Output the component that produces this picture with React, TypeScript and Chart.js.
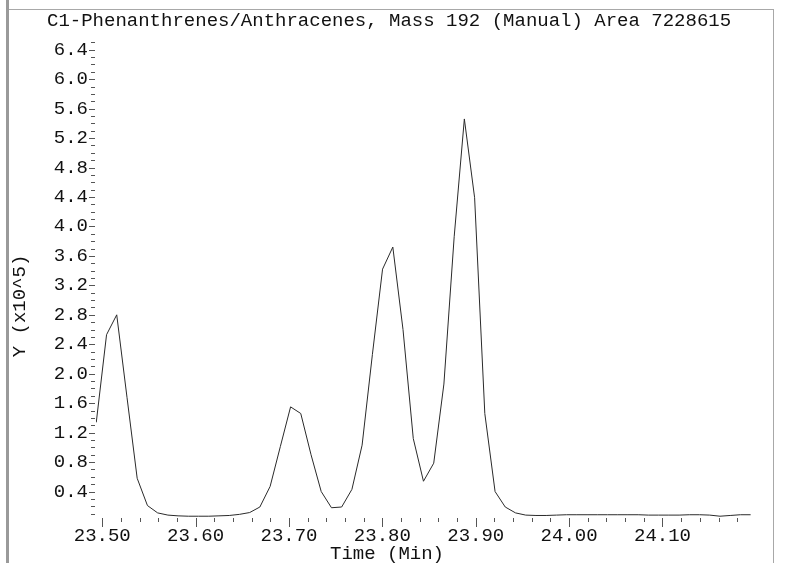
import { useEffect, useRef } from 'react';
import { Chart, registerables } from 'chart.js';

Chart.register(...registerables);

const TITLE = 'C1-Phenanthrenes/Anthracenes, Mass 192 (Manual) Area 7228615';
const X_TITLE = 'Time (Min)';
const Y_TITLE = 'Y (x10^5)';

// retention time of each scan (min)
const times = [
  23.4936, 23.5046, 23.5155, 23.5265, 23.5374, 23.5484, 23.5593, 23.5703, 23.5812, 23.5922,
  23.6031, 23.6141, 23.6250, 23.6360, 23.6469, 23.6579, 23.6688, 23.6798, 23.6907, 23.7017,
  23.7126, 23.7236, 23.7345, 23.7455, 23.7564, 23.7674, 23.7783, 23.7893, 23.8002, 23.8112,
  23.8221, 23.8331, 23.8440, 23.8550, 23.8659, 23.8769, 23.8878, 23.8988, 23.9097, 23.9207,
  23.9316, 23.9426, 23.9535, 23.9645, 23.9754, 23.9864, 23.9973, 24.0083, 24.0192, 24.0302,
  24.0411, 24.0521, 24.0630, 24.0740, 24.0849, 24.0959, 24.1068, 24.1178, 24.1287, 24.1397,
  24.1506, 24.1616, 24.1725, 24.1835, 24.1944,
];

// abundance (x10^5)
const intensity = [
  1.34, 2.53, 2.80, 1.68, 0.58, 0.21, 0.11, 0.08, 0.07, 0.065,
  0.065, 0.065, 0.07, 0.075, 0.09, 0.115, 0.19, 0.47, 1.01, 1.55,
  1.46, 0.90, 0.40, 0.18, 0.19, 0.43, 1.03, 2.26, 3.42, 3.72,
  2.60, 1.12, 0.54, 0.785, 1.86, 3.86, 5.46, 4.39, 1.46, 0.40,
  0.19, 0.11, 0.08, 0.075, 0.075, 0.08, 0.085, 0.085, 0.085, 0.085,
  0.085, 0.085, 0.085, 0.085, 0.08, 0.08, 0.08, 0.08, 0.085, 0.085,
  0.08, 0.065, 0.075, 0.085, 0.085,
];

const xMajorTicks = [23.5, 23.6, 23.7, 23.8, 23.9, 24.0, 24.1];
const yMajorTicks = [0.4, 0.8, 1.2, 1.6, 2.0, 2.4, 2.8, 3.2, 3.6, 4.0, 4.4, 4.8, 5.2, 5.6, 6.0, 6.4];
const X_MIN = 23.4933;
const X_MAX = 24.1948;
const Y_MIN = 0;
const Y_MAX = 6.6;
const X_MINOR_STEP = 0.02;
const Y_MINOR_STEP = 0.1;

const FONT = '"Liberation Mono", "DejaVu Sans Mono", monospace';
const FONT_SIZE = 19;

const decorPlugin = {
  id: 'decor',
  afterDraw(chart: any) {
    const ctx = chart.ctx as CanvasRenderingContext2D;
    const { left, bottom } = chart.chartArea;
    const xs = chart.scales.x;
    const ys = chart.scales.y;
    ctx.save();
    // frame
    ctx.fillStyle = '#9a9a9a';
    ctx.fillRect(6, 0, 3, 563);
    ctx.fillStyle = '#a8a8a8';
    ctx.fillRect(9, 9, 765, 1);
    ctx.fillRect(773, 9, 1, 554);

    // tick marks
    ctx.strokeStyle = '#555';
    ctx.lineWidth = 1;
    ctx.beginPath();
    const nY = Math.round((Y_MAX - 0.1) / Y_MINOR_STEP);
    for (let i = 1; i <= nY; i++) {
      const v = i * Y_MINOR_STEP;
      const py = Math.round(ys.getPixelForValue(v)) + 0.5;
      const major = i % 4 === 0;
      ctx.moveTo(left - (major ? 7 : 5), py);
      ctx.lineTo(left - 1, py);
    }
    const x0 = xMajorTicks[0];
    const nX = Math.floor((X_MAX - x0) / X_MINOR_STEP + 1e-6);
    for (let i = 0; i <= nX; i++) {
      const v = x0 + i * X_MINOR_STEP;
      const px = Math.round(xs.getPixelForValue(v)) + 0.5;
      const major = i % 5 === 0;
      ctx.moveTo(px, bottom - 3);
      ctx.lineTo(px, bottom + (major ? 6 : 1));
    }
    ctx.stroke();

    // texts
    ctx.fillStyle = '#111';
    ctx.font = `${FONT_SIZE}px ${FONT}`;
    ctx.textBaseline = 'middle';
    ctx.textAlign = 'left';
    ctx.fillText(TITLE, 47, 21);
    ctx.fillText(X_TITLE, 330, 554);
    ctx.translate(20, 306);
    ctx.rotate(-Math.PI / 2);
    ctx.textAlign = 'center';
    ctx.fillText(Y_TITLE, 0, 0);
    ctx.restore();
  },
};

export default function App() {
  const ref = useRef<HTMLCanvasElement | null>(null);

  useEffect(() => {
    if (!ref.current) return;
    const chart = new Chart(ref.current, {
      type: 'line',
      data: {
        datasets: [
          {
            data: times.map((t, i) => ({ x: t, y: intensity[i] })),
            borderColor: '#2a2a2a',
            borderWidth: 1,
            pointRadius: 0,
            tension: 0,
            fill: false,
          },
        ],
      },
      options: {
        responsive: false,
        animation: false,
        devicePixelRatio: 1,
        layout: { padding: { left: 0, right: 35, top: 35, bottom: 0 } },
        plugins: {
          legend: { display: false },
          tooltip: { enabled: false },
          title: { display: false },
        },
        scales: {
          x: {
            type: 'linear',
            min: X_MIN,
            max: X_MAX,
            grid: { display: false, drawTicks: false },
            border: { display: false },
            afterBuildTicks: (s: any) => {
              s.ticks = xMajorTicks.map((v) => ({ value: v }));
            },
            afterFit: (s: any) => {
              s.height = 42;
            },
            ticks: {
              padding: 4,
              color: '#111',
              font: { family: FONT, size: FONT_SIZE },
              maxRotation: 0,
              autoSkip: false,
              callback: (v: any) => Number(v).toFixed(2),
            },
          },
          y: {
            type: 'linear',
            min: Y_MIN,
            max: Y_MAX,
            grid: { display: false, drawTicks: false },
            border: { display: false },
            afterBuildTicks: (s: any) => {
              s.ticks = yMajorTicks.map((v) => ({ value: v }));
            },
            afterFit: (s: any) => {
              s.width = 96;
            },
            ticks: {
              padding: 8,
              color: '#111',
              font: { family: FONT, size: FONT_SIZE },
              autoSkip: false,
              callback: (v: any) => Number(v).toFixed(1),
            },
          },
        },
      },
      plugins: [decorPlugin],
    });
    return () => chart.destroy();
  }, []);

  return (
    <div style={{ position: 'fixed', left: 0, top: 0, width: 786, height: 563, background: '#fff' }}>
      <canvas ref={ref} width={786} height={563} style={{ display: 'block' }} />
    </div>
  );
}
